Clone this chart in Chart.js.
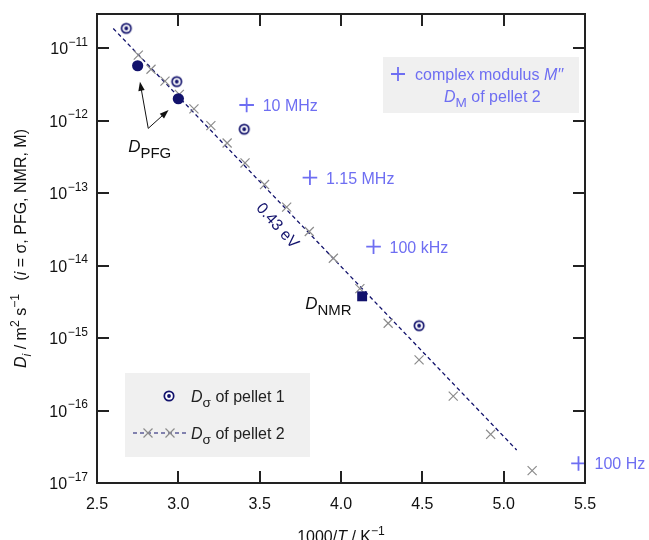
<!DOCTYPE html>
<html>
<head>
<meta charset="utf-8">
<script src="https://cdn.jsdelivr.net/npm/chart.js@4.4.1/dist/chart.umd.min.js"></script>
<style>
  html, body { margin: 0; padding: 0; background: #fff; }
  #wrap { width: 649px; height: 540px; }
</style>
</head>
<body>
<div id="wrap"><canvas id="c" width="649" height="540"></canvas></div>
<script>
// values
const pellet1X = [2.68, 2.99, 3.405, 4.48];
const pellet1Y = [1.87e-11, 3.45e-12, 7.6e-13, 1.48e-15];
const pfgX = [2.75, 3.0];
const pfgY = [5.7e-12, 2.0e-12];
const nmrX = [4.13];
const nmrY = [3.76e-15];
const pellet2X = [2.754, 2.832, 2.918, 3.006, 3.096, 3.20, 3.30, 3.41, 3.53, 3.666, 3.805, 3.953, 4.116, 4.29, 4.48, 4.69, 4.92, 5.175];
const pellet2Y = [8.0e-12, 5.1e-12, 3.5e-12, 2.3e-12, 1.45e-12, 8.5e-13, 4.9e-13, 2.6e-13, 1.31e-13, 6.4e-14, 2.95e-14, 1.26e-14, 4.8e-15, 1.6e-15, 5.0e-16, 1.58e-16, 4.7e-17, 1.48e-17];
const fitX = [2.60, 5.08];
const fitY = [1.86e-11, 2.85e-17];
const modX = [3.42, 3.809, 4.20, 5.46];
const modY = [1.64e-12, 1.63e-13, 1.82e-14, 1.86e-17];
const modLabels = ['10 MHz', '1.15 MHz', '100 kHz', '100 Hz'];
const xTicks = [2.5, 3.0, 3.5, 4.0, 4.5, 5.0, 5.5];
const yTickExps = [-17, -16, -15, -14, -13, -12, -11];

const NAVY = '#12126c';
const GREY = '#8c8c8c';
const VIOLET = '#6e6ef2';
const AXIS = '#222';
const FONT = "'Liberation Sans', Arial, sans-serif";

const pts = (xs, ys) => xs.map((x, i) => ({ x, y: ys[i] }));

// circle with dot marker (pellet 1)
function dotCircle() {
  const c = document.createElement('canvas');
  c.width = 14; c.height = 14;
  const g = c.getContext('2d');
  g.beginPath(); g.arc(7, 7, 4.7, 0, Math.PI * 2);
  g.fillStyle = '#fff'; g.fill();
  g.lineWidth = 1.7; g.strokeStyle = NAVY; g.stroke();
  g.beginPath(); g.arc(7, 7, 1.9, 0, Math.PI * 2);
  g.fillStyle = NAVY; g.fill();
  return c;
}
const ringImg = dotCircle();

// rich text: segments {t, it, sub, sup, k}
function segFont(s, size) {
  const sz = (s.sub || s.sup) ? size * (s.k || 0.76) : size;
  return (s.it ? 'italic ' : '') + sz + 'px ' + FONT;
}
function richWidth(ctx, segs, size) {
  let w = 0;
  for (const s of segs) { ctx.font = segFont(s, size); w += ctx.measureText(s.t).width; }
  return w;
}
function drawRich(ctx, x, y, segs, size, color, align) {
  let cx = x;
  if (align === 'center') cx -= richWidth(ctx, segs, size) / 2;
  if (align === 'right') cx -= richWidth(ctx, segs, size);
  ctx.fillStyle = color;
  ctx.textAlign = 'left';
  ctx.textBaseline = 'alphabetic';
  for (const s of segs) {
    ctx.font = segFont(s, size);
    const dy = s.sub ? size * 0.32 : s.sup ? -size * 0.42 : 0;
    ctx.fillText(s.t, cx, y + dy);
    cx += ctx.measureText(s.t).width;
  }
}
function plusMark(ctx, x, y, r, color) {
  ctx.save();
  ctx.strokeStyle = color; ctx.lineWidth = 1.8;
  ctx.beginPath();
  ctx.moveTo(x - r, y); ctx.lineTo(x + r, y);
  ctx.moveTo(x, y - r); ctx.lineTo(x, y + r);
  ctx.stroke();
  ctx.restore();
}
function xMark(ctx, x, y, r, color) {
  ctx.save();
  ctx.strokeStyle = color; ctx.lineWidth = 1.2;
  ctx.beginPath();
  ctx.moveTo(x - r, y - r); ctx.lineTo(x + r, y + r);
  ctx.moveTo(x - r, y + r); ctx.lineTo(x + r, y - r);
  ctx.stroke();
  ctx.restore();
}
function arrow(ctx, x1, y1, x2, y2) {
  const a = Math.atan2(y2 - y1, x2 - x1);
  ctx.save();
  ctx.strokeStyle = '#111'; ctx.fillStyle = '#111'; ctx.lineWidth = 1;
  ctx.beginPath(); ctx.moveTo(x1, y1);
  ctx.lineTo(x2 - 7 * Math.cos(a), y2 - 7 * Math.sin(a)); ctx.stroke();
  ctx.beginPath();
  ctx.moveTo(x2, y2);
  ctx.lineTo(x2 - 9 * Math.cos(a) + 3.2 * Math.sin(a), y2 - 9 * Math.sin(a) - 3.2 * Math.cos(a));
  ctx.lineTo(x2 - 9 * Math.cos(a) - 3.2 * Math.sin(a), y2 - 9 * Math.sin(a) + 3.2 * Math.cos(a));
  ctx.closePath(); ctx.fill();
  ctx.restore();
}

// frame, inward ticks, labels, legends, annotations
const decor = {
  id: 'decor',
  afterDatasetsDraw(chart) {
    const { ctx, chartArea: a, scales: { x, y } } = chart;
    ctx.save();
    ctx.strokeStyle = AXIS; ctx.lineWidth = 2;
    ctx.strokeRect(a.left, a.top, a.right - a.left, a.bottom - a.top);
    ctx.beginPath();
    const tl = 12;
    for (const v of xTicks.slice(1, -1)) {
      const px = Math.round(x.getPixelForValue(v));
      ctx.moveTo(px, a.bottom); ctx.lineTo(px, a.bottom - tl);
      ctx.moveTo(px, a.top); ctx.lineTo(px, a.top + tl);
    }
    for (const e of yTickExps.slice(1)) {
      const py = Math.round(y.getPixelForValue(Math.pow(10, e)));
      ctx.moveTo(a.left, py); ctx.lineTo(a.left + tl, py);
      ctx.moveTo(a.right, py); ctx.lineTo(a.right - tl, py);
    }
    ctx.stroke();

    // tick labels
    for (const v of xTicks) {
      drawRich(ctx, x.getPixelForValue(v), a.bottom + 26, [{ t: v.toFixed(1) }], 16, '#111', 'center');
    }
    for (const e of yTickExps) {
      const py = y.getPixelForValue(Math.pow(10, e));
      ctx.font = '12px ' + FONT;
      const supW = ctx.measureText('\u2212' + (-e)).width;
      const rx = a.left - 9;
      ctx.fillStyle = '#111'; ctx.textAlign = 'left'; ctx.textBaseline = 'alphabetic';
      ctx.fillText('\u2212' + (-e), rx - supW, py - 2.5);
      ctx.font = '16px ' + FONT; ctx.textAlign = 'right';
      ctx.fillText('10', rx - supW - 0.5, py + 6);
    }

    // axis titles
    drawRich(ctx, (a.left + a.right) / 2, 542,
      [{ t: '1000/' }, { t: 'T', it: true }, { t: ' / K' }, { t: '\u22121', sup: true }], 16, '#111', 'center');
    ctx.save();
    ctx.translate(26, (a.top + a.bottom) / 2);
    ctx.rotate(-Math.PI / 2);
    drawRich(ctx, 0, 0, [
      { t: 'D', it: true }, { t: 'i', it: true, sub: true }, { t: ' / m' }, { t: '2', sup: true },
      { t: ' s' }, { t: '\u22121', sup: true }, { t: '   (' }, { t: 'i', it: true },
      { t: ' = \u03c3, PFG, NMR, M)' }], 16, '#111', 'center');
    ctx.restore();

    // frequency labels next to the M'' points
    modX.forEach((v, i) => {
      const px = x.getPixelForValue(v), py = y.getPixelForValue(modY[i]);
      drawRich(ctx, px + 16, py + 6, [{ t: modLabels[i] }], 16, VIOLET, 'left');
    });

    // 0.43 eV along the fit
    const fx = x.getPixelForValue(3.615), fy = y.getPixelForValue(Math.pow(10, -13.44));
    ctx.save();
    ctx.translate(fx, fy); ctx.rotate(48 * Math.PI / 180);
    drawRich(ctx, 0, 6, [{ t: '0.43 eV' }], 16, NAVY, 'center');
    ctx.restore();

    // D_PFG with arrows
    const tx = x.getPixelForValue(2.815), ty = y.getPixelForValue(Math.pow(10, -12.108));
    arrow(ctx, tx, ty, x.getPixelForValue(2.764), y.getPixelForValue(Math.pow(10, -11.465)));
    arrow(ctx, tx, ty, x.getPixelForValue(2.940), y.getPixelForValue(Math.pow(10, -11.855)));
    drawRich(ctx, tx - 20, ty + 24, [{ t: 'D', it: true }, { t: 'PFG', sub: true, k: 0.88 }], 17, '#111', 'left');

    // D_NMR
    drawRich(ctx, x.getPixelForValue(nmrX[0]) - 57, y.getPixelForValue(nmrY[0]) + 13,
      [{ t: 'D', it: true }, { t: 'NMR', sub: true, k: 0.88 }], 17, '#111', 'left');

    // top-right legend
    const L1 = { x: a.right - 202, y: a.top + 43 };
    ctx.fillStyle = '#f0f0f0';
    ctx.fillRect(L1.x, L1.y, 196, 56);
    plusMark(ctx, L1.x + 15, L1.y + 17, 7, VIOLET);
    drawRich(ctx, L1.x + 32, L1.y + 23, [{ t: 'complex modulus ' }, { t: 'M\u2032\u2032', it: true }], 16, VIOLET, 'left');
    drawRich(ctx, L1.x + 61, L1.y + 45, [{ t: 'D', it: true }, { t: 'M', sub: true, k: 0.85 }, { t: ' of pellet 2' }], 16, VIOLET, 'left');

    // bottom-left legend
    const L2 = { x: a.left + 28, y: a.bottom - 110 };
    ctx.fillStyle = '#f0f0f0';
    ctx.fillRect(L2.x, L2.y, 185, 84);
    ctx.drawImage(ringImg, L2.x + 44 - 7, L2.y + 23 - 7);
    drawRich(ctx, L2.x + 66, L2.y + 29, [{ t: 'D', it: true }, { t: '\u03c3', sub: true, k: 0.85 }, { t: ' of pellet 1' }], 16, '#222', 'left');
    ctx.save();
    ctx.strokeStyle = NAVY; ctx.lineWidth = 1.2; ctx.setLineDash([4, 3]);
    ctx.beginPath(); ctx.moveTo(L2.x + 8, L2.y + 60); ctx.lineTo(L2.x + 61, L2.y + 60); ctx.stroke();
    ctx.restore();
    xMark(ctx, L2.x + 23, L2.y + 60, 4.5, GREY);
    xMark(ctx, L2.x + 45, L2.y + 60, 4.5, GREY);
    drawRich(ctx, L2.x + 66, L2.y + 66, [{ t: 'D', it: true }, { t: '\u03c3', sub: true, k: 0.85 }, { t: ' of pellet 2' }], 16, '#222', 'left');
    ctx.restore();
  }
};

new Chart(document.getElementById('c'), {
  type: 'scatter',
  data: {
    datasets: [
      {
        label: 'fit 0.43 eV', type: 'line', data: pts(fitX, fitY),
        borderColor: NAVY, borderWidth: 1.3, borderDash: [4, 3], pointRadius: 0, fill: false, order: 5
      },
      {
        label: 'D_sigma pellet 2', data: pts(pellet2X, pellet2Y), pointStyle: 'crossRot',
        radius: 6.4, borderColor: GREY, borderWidth: 1.2, order: 4
      },
      {
        label: 'M\'\'', data: pts(modX, modY), pointStyle: 'cross',
        radius: 7.3, borderColor: VIOLET, borderWidth: 1.8, order: 3
      },
      {
        label: 'D_NMR', data: pts(nmrX, nmrY), pointStyle: 'rect',
        radius: 7, backgroundColor: NAVY, borderColor: NAVY, borderWidth: 0, order: 2
      },
      {
        label: 'D_PFG', data: pts(pfgX, pfgY), pointStyle: 'circle',
        radius: 5.6, backgroundColor: NAVY, borderColor: NAVY, borderWidth: 0, order: 1
      },
      {
        label: 'D_sigma pellet 1', data: pts(pellet1X, pellet1Y), pointStyle: ringImg,
        order: 0
      }
    ]
  },
  options: {
    responsive: false,
    animation: false,
    clip: false,
    layout: { padding: { left: 97, right: 64, top: 14, bottom: 57 } },
    plugins: { legend: { display: false }, tooltip: { enabled: false } },
    scales: {
      x: { type: 'linear', min: 2.5, max: 5.5, display: false },
      y: { type: 'logarithmic', min: 1e-17, max: Math.pow(10, -10.53), display: false }
    }
  },
  plugins: [decor]
});
</script>
</body>
</html>
